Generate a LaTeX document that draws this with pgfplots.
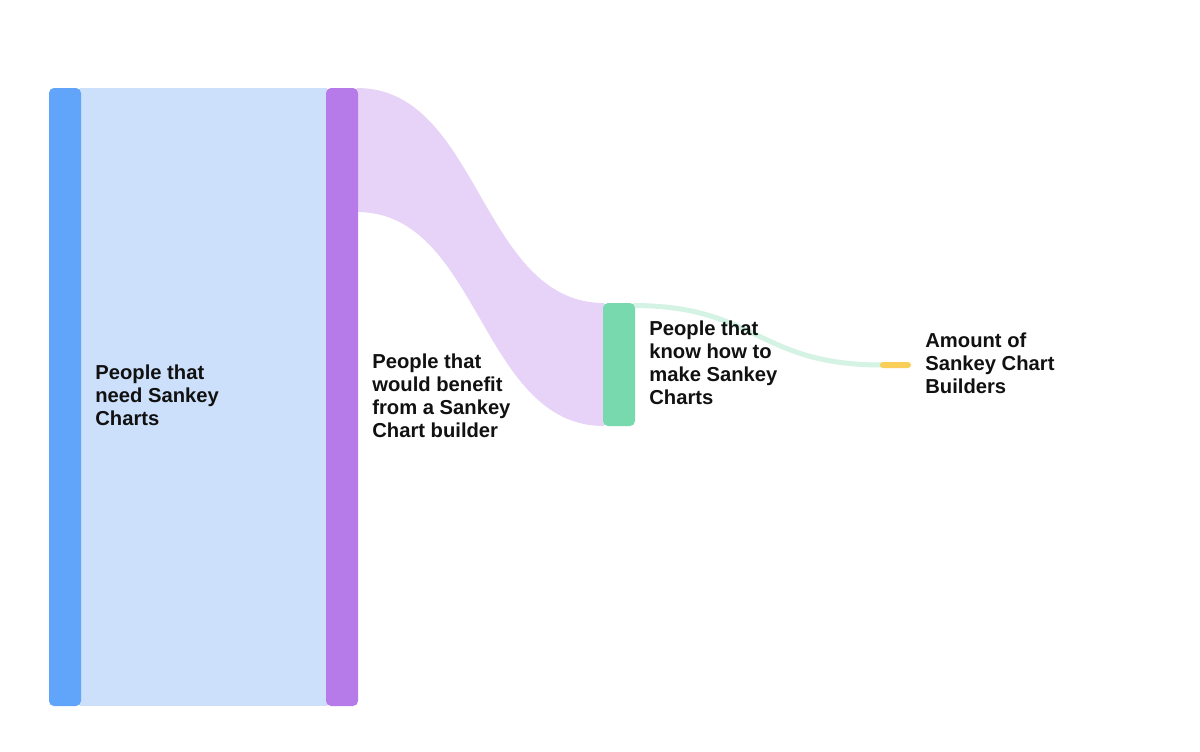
\documentclass[border=0pt]{standalone}
\usepackage{pgfplots}
\pgfplotsset{compat=1.18}
\usepackage{fontspec}
\setmainfont{Liberation Sans}
\definecolor{nodeA}{HTML}{60A5FA}
\definecolor{linkA}{HTML}{CCE0FB}
\definecolor{nodeB}{HTML}{B77AE9}
\definecolor{linkB}{HTML}{E8D3F8}
\definecolor{nodeC}{HTML}{77D9AD}
\definecolor{linkC}{HTML}{D4F3E4}
\definecolor{nodeD}{HTML}{F9CF5A}
\definecolor{txt}{HTML}{111111}
\begin{document}
\begin{tikzpicture}
\begin{axis}[
  width=600pt, height=375.5pt, scale only axis,
  xmin=0, xmax=1200, ymin=0, ymax=751, y dir=reverse,
  hide axis,
]
% background (keeps page size)
\fill[white] (axis cs:0,0) rectangle (axis cs:1200,751);
% links
\addplot[fill=linkA, draw=none] coordinates {(80,88) (327,88) (327,706) (80,706)} -- cycle;
\fill[linkB] (axis cs:357,88) .. controls (axis cs:480,88) and (axis cs:480,303) .. (axis cs:604,303)
  -- (axis cs:604,426) .. controls (axis cs:480,426) and (axis cs:480,212) .. (axis cs:357,212) -- cycle;
\draw[linkC, line width=2.5pt] (axis cs:633,305.5) .. controls (axis cs:757,305.5) and (axis cs:757,365) .. (axis cs:882,365);
% nodes
\addplot[fill=nodeA, draw=none, rounded corners=2.5pt] coordinates {(49,88) (81,88) (81,706) (49,706)} -- cycle;
\addplot[fill=nodeB, draw=none, rounded corners=2.5pt] coordinates {(326,88) (358,88) (358,706) (326,706)} -- cycle;
\addplot[fill=nodeC, draw=none, rounded corners=2.5pt] coordinates {(603,303) (635,303) (635,426) (603,426)} -- cycle;
\addplot[fill=nodeD, draw=none, rounded corners=1.5pt] coordinates {(880,362) (911,362) (911,368) (880,368)} -- cycle;
% labels
\tikzset{lbl/.style={anchor=west, align=left, inner sep=0pt, text=txt,
  font=\fontsize{10.1pt}{11.5pt}\selectfont\bfseries}}
\node[lbl] at (axis cs:95,395) {People that\\need Sankey\\Charts};
\node[lbl] at (axis cs:372,395.5) {People that\\would benefit\\from a Sankey\\Chart builder};
\node[lbl] at (axis cs:649,362.5) {People that\\know how to\\make Sankey\\Charts};
\node[lbl] at (axis cs:925,363) {Amount of\\Sankey Chart\\Builders};
\end{axis}
\end{tikzpicture}
\end{document}
